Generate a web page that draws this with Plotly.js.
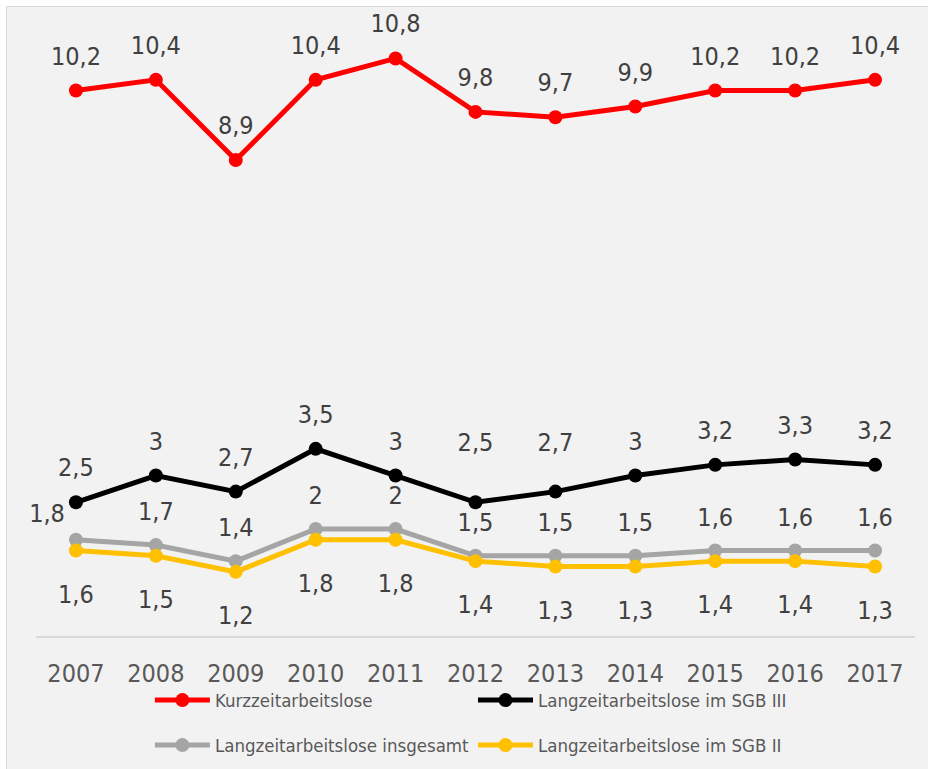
<!DOCTYPE html>
<html>
<head>
<meta charset="utf-8">
<script src="https://cdn.plot.ly/plotly-3.0.1.min.js"></script>
<style>
html,body{margin:0;padding:0;background:#ffffff;width:928px;height:769px;overflow:hidden;}
#frame{position:absolute;left:6px;top:6px;width:922px;height:763px;border-left:1px solid #d9d9d9;border-top:1px solid #d9d9d9;background:#f2f2f2;}
#chart{position:absolute;left:0;top:0;width:922px;height:763px;}
</style>
</head>
<body>
<div id="frame"><div id="chart"></div></div>
<script>
const years = ['2007','2008','2009','2010','2011','2012','2013','2014','2015','2016','2017'];
const kurzzeit = [10.2,10.4,8.9,10.4,10.8,9.8,9.7,9.9,10.2,10.2,10.4];
const sgb3 = [2.5,3,2.7,3.5,3,2.5,2.7,3,3.2,3.3,3.2];
const insgesamt = [1.8,1.7,1.4,2,2,1.5,1.5,1.5,1.6,1.6,1.6];
const sgb2 = [1.6,1.5,1.2,1.8,1.8,1.4,1.3,1.3,1.4,1.4,1.3];

const FONT = '"DejaVu Sans Condensed", "Liberation Sans", sans-serif';
const LABEL_SIZE = 25;
const fmt = v => String(v).replace('.', ',');

function line(name, y, color, legend) {
  return {
    type: 'scatter', mode: 'lines+markers', name: name,
    x: years, y: y, legend: legend,
    line: {color: color, width: 5},
    marker: {color: color, size: 14},
    hoverinfo: 'skip'
  };
}

// data labels: transparent markers control the label offset from the point
function labelTrace(vals, position, padSize) {
  return {
    type: 'scatter', mode: 'markers+text', x: years, y: vals,
    text: vals.map(fmt), textposition: position,
    textfont: {family: FONT, size: LABEL_SIZE, color: '#404040'},
    marker: {size: padSize, opacity: 0, color: '#000'},
    showlegend: false, hoverinfo: 'skip', cliponaxis: false
  };
}

const sgb3Pad = years.map((_, i) => i === 5 ? 70 : (i === 6 ? 54 : 30));
const insgPos = years.map((_, i) => i === 0 ? 'top left' : 'top center');
const insgPad = years.map((_, i) => i === 0 ? 16 : 28);

const traces = [
  line('Kurzzeitarbeitslose', kurzzeit, '#ff0000', 'legend'),
  line('Langzeitarbeitslose im SGB III', sgb3, '#000000', 'legend2'),
  line('Langzeitarbeitslose insgesamt', insgesamt, '#a5a5a5', 'legend3'),
  line('Langzeitarbeitslose im SGB II', sgb2, '#ffc000', 'legend4'),
  labelTrace(kurzzeit, 'top center', 30),
  labelTrace(sgb3, 'top center', sgb3Pad),
  labelTrace(insgesamt, insgPos, insgPad),
  labelTrace(sgb2, 'bottom center', 52)
];

function legendBox(x, y) {
  return {
    orientation: 'h', xref: 'container', yref: 'container',
    x: x, y: y, xanchor: 'left', yanchor: 'middle', itemwidth: 55,
    bgcolor: 'rgba(0,0,0,0)',
    font: {family: FONT, size: 18.5, color: '#595959'}
  };
}

const layout = {
  width: 922, height: 763,
  margin: {l: 29, r: 14, t: 14, b: 134},
  paper_bgcolor: 'rgba(0,0,0,0)',
  plot_bgcolor: 'rgba(0,0,0,0)',
  font: {family: FONT, color: '#595959'},
  showlegend: true,
  xaxis: {
    type: 'category', range: [-0.5, 10.5],
    showgrid: false, zeroline: false,
    showline: true, linecolor: '#d9d9d9', linewidth: 2,
    ticks: '', ticklabelstandoff: 14,
    tickfont: {family: FONT, size: 25, color: '#595959'}
  },
  yaxis: {
    range: [0, 11.5], showgrid: false, zeroline: false, showline: false,
    showticklabels: false, ticks: '', fixedrange: true
  },
  legend: legendBox(0.155, 0.091),
  legend2: legendBox(0.5054, 0.091),
  legend3: legendBox(0.155, 0.032),
  legend4: legendBox(0.5054, 0.032)
};

Plotly.newPlot('chart', traces, layout, {displayModeBar: false, staticPlot: true});
</script>
</body>
</html>
